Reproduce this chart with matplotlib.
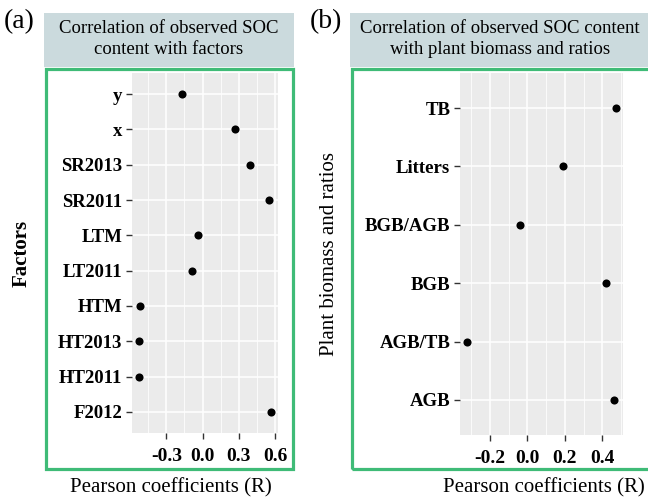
import numpy as np
import matplotlib
matplotlib.use('Agg')
import matplotlib.pyplot as plt
from matplotlib.patches import Rectangle
from matplotlib.ticker import MultipleLocator

plt.rcParams['font.family'] = ['Liberation Serif', 'DejaVu Serif']

# --- data (listed top to bottom as drawn) ---
factors = ['y', 'x', 'SR2013', 'SR2011', 'LTM', 'LT2011', 'HTM', 'HT2013', 'HT2011', 'F2012']
r_factors = [-0.17, 0.27, 0.39, 0.55, -0.04, -0.09, -0.52, -0.53, -0.53, 0.57]

biomass = ['TB', 'Litters', 'BGB/AGB', 'BGB', 'AGB/TB', 'AGB']
r_biomass = [0.47, 0.19, -0.04, 0.42, -0.32, 0.46]

W, H = 648, 500
fig = plt.figure(figsize=(W / 100, H / 100), dpi=100)

HEAD_COL = '#cbdadd'
BOX_COL = '#3fbb77'
GRID_BG = '#ebebeb'


def px_rect(x0, y0, x1, y1):
    # pixel box (top-left origin) -> figure fraction [l, b, w, h]
    return [x0 / W, 1 - y1 / H, (x1 - x0) / W, (y1 - y0) / H]


def frame(x0, x1, title, tag, title_cx):
    l, b, w, h = px_rect(x0, 13, x1, 67)
    fig.patches.append(Rectangle((l, b), w, h, transform=fig.transFigure,
                                 facecolor=HEAD_COL, edgecolor='none', zorder=0))
    fig.text(title_cx / W, 1 - 39 / H, title,
             ha='center', va='center', fontsize=13.5, linespacing=1.3)
    l, b, w, h = px_rect(x0 + 1.5, 68.5, x1 - 1.5, 469)
    fig.patches.append(Rectangle((l, b), w, h, transform=fig.transFigure,
                                 facecolor='none', edgecolor=BOX_COL, lw=2.3, zorder=1))
    fig.text((x0 - 40) / W, 1 - 22 / H, tag, ha='left', va='center', fontsize=20)


def dot_panel(rect, labels, vals, step, ylabel, ylabel_x, xlabel_x, ylab_weight):
    ax = fig.add_axes(px_rect(*rect))
    n = len(labels)
    pos = np.arange(n)[::-1] + 1
    ax.scatter(vals, pos, s=34, color='black', zorder=3, linewidths=0)
    lo, hi = min(vals), max(vals)
    pad = 0.05 * (hi - lo)
    ax.set_xlim(lo - pad, hi + pad)
    ax.set_ylim(0.4, n + 0.6)
    ax.set_yticks(pos)
    ax.set_yticklabels(labels, fontsize=13.5, fontweight='bold')
    ax.xaxis.set_major_locator(MultipleLocator(step))
    ax.xaxis.set_minor_locator(MultipleLocator(step / 2))
    ax.xaxis.set_major_formatter(lambda v, p: f'{v:.1f}' if abs(v) > 1e-9 else '0.0')
    ax.tick_params(axis='x', labelsize=14, length=4, width=1.0, color='#333333', pad=7)
    ax.tick_params(axis='y', length=4, width=1.0, color='#333333', pad=3)
    ax.tick_params(which='minor', length=0)
    for t in ax.get_xticklabels():
        t.set_fontweight('bold')
    ax.set_facecolor(GRID_BG)
    ax.grid(True, which='major', color='white', lw=1.1)
    ax.grid(True, which='minor', axis='x', color='white', lw=0.55)
    ax.set_axisbelow(True)
    for s in ax.spines.values():
        s.set_visible(False)
    fig.text(ylabel_x / W, 1 - (rect[1] + rect[3]) / 2 / H, ylabel, rotation=90,
             ha='center', va='center', fontsize=15, fontweight=ylab_weight)
    fig.text(xlabel_x / W, 1 - 488 / H, 'Pearson coefficients (R)',
             ha='center', va='center', fontsize=15)
    return ax


frame(44, 294, 'Correlation of observed SOC\ncontent with factors', '(a)', 169)
frame(350, 760, 'Correlation of observed SOC content\nwith plant biomass and ratios', '(b)', 500)

dot_panel((132, 73, 278, 433), factors, r_factors, 0.3, 'Factors', 22, 171, 'bold')
dot_panel((460, 73, 623, 435), biomass, r_biomass, 0.2, 'Plant biomass and ratios', 330, 544, 'normal')

fig.savefig('out.png', dpi=100)
